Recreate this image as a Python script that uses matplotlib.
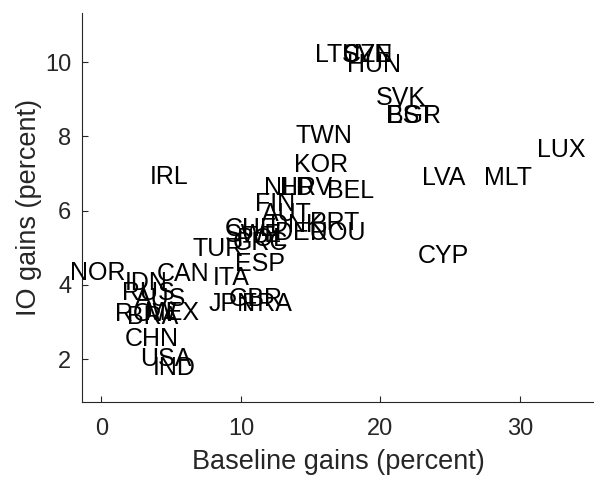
import matplotlib
matplotlib.use("Agg")
import matplotlib.pyplot as plt

plt.rcParams['font.family'] = ['Liberation Sans', 'DejaVu Sans']

countries = ["LUX", "MLT", "LVA", "CYP", "IRL", "LTU", "SVN", "CZE", "HUN", "SVK",
             "EST", "BGR", "TWN", "KOR", "NLD", "HRV", "BEL", "FIN", "AUT", "PRT",
             "ROU", "DNK", "DEU", "CHE", "SWE", "POL", "GRC", "TUR", "ESP", "ITA",
             "CAN", "NOR", "IDN", "RUS", "AUS", "ROW", "BRA", "MEX", "CHN", "USA",
             "IND", "JPN", "GBR", "FRA"]
baseline_gains = [31.2, 27.4, 23.0, 22.7, 3.5, 15.3, 17.2, 17.3, 17.6, 19.7,
                  20.4, 20.5, 13.9, 13.8, 11.65, 12.8, 16.2, 11.0, 11.5, 14.95,
                  14.95, 12.1, 12.45, 8.86, 8.86, 9.7, 9.4, 6.5, 9.6, 8.0,
                  4.0, -2.24, 1.7, 1.5, 2.4, 1.0, 1.85, 3.1, 1.7, 2.8,
                  3.7, 7.65, 9.1, 10.1]
io_gains = [7.62, 6.87, 6.87, 4.77, 6.90, 10.18, 10.18, 10.18, 9.93, 9.02,
            8.54, 8.54, 8.0, 7.24, 6.60, 6.60, 6.52, 6.17, 5.90, 5.66,
            5.39, 5.61, 5.39, 5.50, 5.34, 5.23, 5.12, 4.96, 4.56, 4.18,
            4.29, 4.32, 4.05, 3.78, 3.62, 3.21, 3.13, 3.24, 2.54, 2.0,
            1.76, 3.48, 3.62, 3.48]

x_ticks = [0, 10, 20, 30]
y_ticks = [2, 4, 6, 8, 10]

fig = plt.figure(figsize=(5.94, 4.78), dpi=100)
ax = fig.add_axes([0.1386, 0.1584, 0.8614, 0.8144])

for name, bx, iy in zip(countries, baseline_gains, io_gains):
    ax.text(bx, iy, name, ha='left', va='center', fontsize=18, color='black', clip_on=False)

ax.set_xlim(-1.36, 35.3)
ax.set_ylim(0.84, 11.32)
ax.set_xticks(x_ticks)
ax.set_yticks(y_ticks)

axc = '#262626'
for s in ['top', 'right']:
    ax.spines[s].set_visible(False)
for s in ['left', 'bottom']:
    ax.spines[s].set_color(axc)
    ax.spines[s].set_linewidth(0.8)
ax.tick_params(direction='in', length=4, width=0.8, color=axc, labelcolor=axc,
               labelsize=17)
ax.tick_params(axis='x', pad=11)
ax.tick_params(axis='y', pad=8)

ax.set_xlabel('Baseline gains (percent)', fontsize=19.5, color=axc, labelpad=7)
ax.set_ylabel('IO gains (percent)', fontsize=19.5, color=axc, labelpad=2)

fig.savefig('out.png', dpi=100)
